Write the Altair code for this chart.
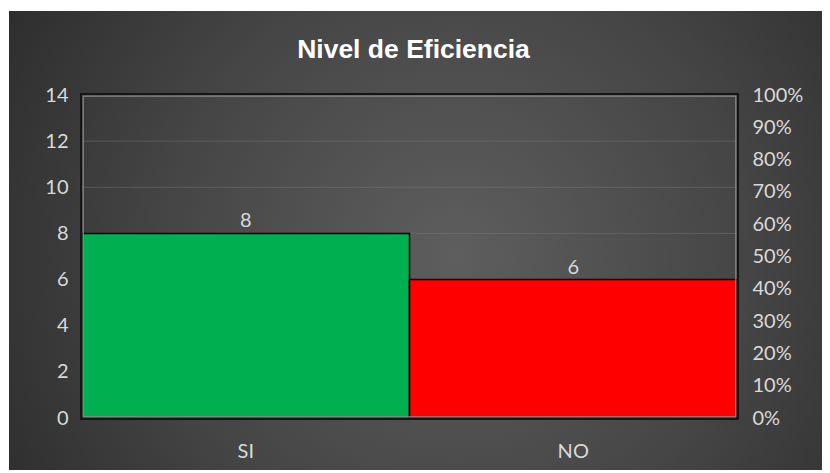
import altair as alt
import pandas as pd

# ---- data ----
categories = ["SI", "NO"]
counts = [8, 6]
shares = [0.571, 0.429]
bar_colors = ["#00B050", "#FF0000"]
left_ticks = [0, 2, 4, 6, 8, 10, 12, 14]
grid_ticks = [2, 4, 6, 8, 10, 12]
right_ticks = [0, 0.1, 0.2, 0.3, 0.4, 0.5, 0.6, 0.7, 0.8, 0.9, 1.0]
title_text = "Nivel de Eficiencia"

df = pd.DataFrame({"cat": categories, "count": counts, "share": shares})
grid_df = pd.DataFrame({"g": grid_ticks})

W, H = 655, 323
PL, PT, PR, PB = 74, 87, 85, 52

LABEL_FONT = "Lato"
LABEL_COLOR = "#d9d9d9"
LABEL_SIZE = 20

xenc = alt.X("cat:N", sort=categories,
             scale=alt.Scale(paddingInner=0, paddingOuter=0),
             axis=alt.Axis(title=None, labelAngle=0, labelPadding=23, zindex=1))
yscale = alt.Scale(domain=[0, 14], nice=False)

bg = alt.Chart(pd.DataFrame({"a": [0]})).mark_rect(
    fill={
        "gradient": "radial",
        "x1": 0.55, "y1": 0.52, "r1": 0.0,
        "x2": 0.55, "y2": 0.52, "r2": 0.72,
        "stops": [
            {"offset": 0.0, "color": "#5e5e5e"},
            {"offset": 0.5, "color": "#454545"},
            {"offset": 1.0, "color": "#262626"},
        ],
    },
    clip=False,
).encode(
    x=alt.value(-PL + 1), x2=alt.value(W + PR),
    y=alt.value(-PT + 3), y2=alt.value(H + PB),
)

title = alt.Chart(pd.DataFrame({"t": [title_text]})).mark_text(
    font="Liberation Sans",
    fontSize=26.5, fontWeight="bold", color="#ffffff",
    align="center", baseline="alphabetic", clip=False,
).encode(x=alt.value(W / 2 + 4), y=alt.value(-37), text="t:N")

grid = alt.Chart(grid_df).mark_rule(color="#7a7a7a", strokeWidth=1, opacity=0.45).encode(
    y=alt.Y("g:Q", scale=yscale, axis=None)
)

bars = alt.Chart(df).mark_bar(stroke="#000000", strokeWidth=1.5).encode(
    x=xenc,
    y=alt.Y("count:Q", scale=yscale,
            axis=alt.Axis(title=None, values=left_ticks, orient="left", grid=False,
                          labelPadding=14, zindex=1)),
    color=alt.Color("cat:N", scale=alt.Scale(domain=categories, range=bar_colors), legend=None),
)

labels = alt.Chart(df).mark_text(
    baseline="alphabetic", dy=-6, font=LABEL_FONT, fontSize=LABEL_SIZE, color=LABEL_COLOR
).encode(
    x=alt.X("cat:N", sort=categories),
    y=alt.Y("count:Q", scale=yscale, axis=None),
    text="count:Q",
)

frame_outer = alt.Chart(pd.DataFrame({"a": [0]})).mark_rect(
    fillOpacity=0, stroke="#151515", strokeWidth=2
).encode(x=alt.value(-1), x2=alt.value(W + 1), y=alt.value(-1), y2=alt.value(H + 1))

frame_inner = alt.Chart(pd.DataFrame({"a": [0]})).mark_rect(
    fillOpacity=0, stroke="#8a8a8a", strokeWidth=1.2
).encode(x=alt.value(1.2), x2=alt.value(W - 1.2), y=alt.value(1.2), y2=alt.value(H - 1.2))

pct = alt.Chart(df).mark_bar(opacity=0).encode(
    x=alt.X("cat:N", sort=categories),
    y=alt.Y("share:Q", scale=alt.Scale(domain=[0, 1], nice=False),
            axis=alt.Axis(title=None, values=right_ticks, format=".0%", orient="right",
                          grid=False, labelPadding=15, zindex=1)),
)

chart = alt.layer(bg, title, grid, bars, labels, frame_inner, frame_outer, pct).resolve_scale(
    y="independent"
).properties(
    width=W, height=H,
    autosize=alt.AutoSizeParams(type="none"),
    padding={"left": PL, "top": PT, "right": PR, "bottom": PB},
    background="white",
).configure_axis(
    domain=False, ticks=False,
    labelFont=LABEL_FONT, labelFontSize=LABEL_SIZE, labelColor=LABEL_COLOR,
).configure_view(stroke=None)

chart.save("out.html", embed_options={"renderer": "svg", "actions": False})
